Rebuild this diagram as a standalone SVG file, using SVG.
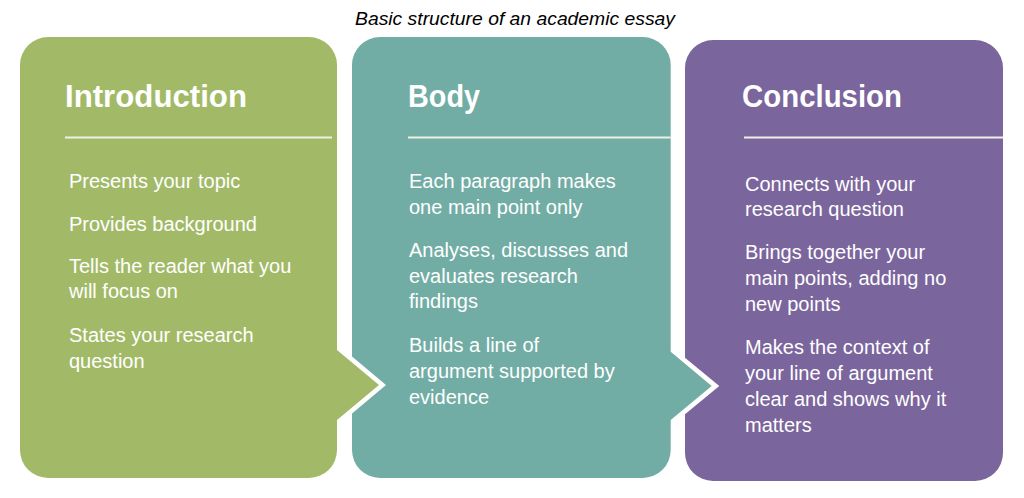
<svg xmlns="http://www.w3.org/2000/svg" width="1024" height="498" viewBox="0 0 1024 498">
<style>
.title{font-family:"Liberation Sans",Arial,sans-serif;font-style:italic;font-size:19px;fill:#000}
.head{font-family:"Liberation Sans",Arial,sans-serif;font-weight:bold;font-size:31.5px;fill:#fff}
.txt{font-family:"Liberation Sans",Arial,sans-serif;font-size:20px;fill:#fff}
.rule{stroke:#eef0e6;stroke-width:2}
</style>
<rect width="1024" height="498" fill="#fff"/>
<text class="title" x="355" y="25" textLength="320" lengthAdjust="spacingAndGlyphs">Basic structure of an academic essay</text>

<g id="introduction">
<path fill="#a2ba67" d="M48,37 H309 A28,28 0 0 1 337,65 V350 L379,385 L337,420 V450 A28,28 0 0 1 309,478 H48 A28,28 0 0 1 20,450 V65 A28,28 0 0 1 48,37 Z"/>
<text class="head" x="65" y="107" textLength="182" lengthAdjust="spacingAndGlyphs">Introduction</text>
<line class="rule" x1="65" y1="137.5" x2="332" y2="137.5"/>
<text class="txt" x="69" y="188.3">Presents your topic</text>
<text class="txt" x="69" y="230.7">Provides background</text>
<text class="txt" x="69" y="272.7">Tells the reader what you</text>
<text class="txt" x="69" y="298.3">will focus on</text>
<text class="txt" x="69" y="342.3">States your research</text>
<text class="txt" x="69" y="367.5">question</text>
</g>

<g id="body">
<path fill="#72ada5" d="M380,37 H642.7 A28,28 0 0 1 670.7,65 V351.7 L711.7,386 L670.7,420 V450 A28,28 0 0 1 642.7,478 H380 A28,28 0 0 1 352,450 V413.5 L386,385 L352,356.5 V65 A28,28 0 0 1 380,37 Z"/>
<text class="head" x="408" y="107" textLength="72" lengthAdjust="spacingAndGlyphs">Body</text>
<line class="rule" x1="408" y1="137.5" x2="670.7" y2="137.5"/>
<text class="txt" x="409" y="188.3">Each paragraph makes</text>
<text class="txt" x="409" y="214">one main point only</text>
<text class="txt" x="409" y="256.7">Analyses, discusses and</text>
<text class="txt" x="409" y="282.7">evaluates research</text>
<text class="txt" x="409" y="308.3">findings</text>
<text class="txt" x="409" y="351.7">Builds a line of</text>
<text class="txt" x="409" y="378">argument supported by</text>
<text class="txt" x="409" y="403.5">evidence</text>
</g>

<g id="conclusion">
<path fill="#7b659d" d="M713,40 H975 A28,28 0 0 1 1003,68 V453 A28,28 0 0 1 975,481 H713 A28,28 0 0 1 685,453 V414.3 L719.3,386 L685,357.7 V68 A28,28 0 0 1 713,40 Z"/>
<text class="head" x="742" y="107" textLength="160" lengthAdjust="spacingAndGlyphs">Conclusion</text>
<line class="rule" x1="744" y1="137.5" x2="1003" y2="137.5"/>
<text class="txt" x="745" y="190.7">Connects with your</text>
<text class="txt" x="745" y="216">research question</text>
<text class="txt" x="745" y="259.3">Brings together your</text>
<text class="txt" x="745" y="285">main points, adding no</text>
<text class="txt" x="745" y="310.7">new points</text>
<text class="txt" x="745" y="354.3">Makes the context of</text>
<text class="txt" x="745" y="380">your line of argument</text>
<text class="txt" x="745" y="406">clear and shows why it</text>
<text class="txt" x="745" y="431.7">matters</text>
</g>

<g id="connectors"></g>
</svg>
